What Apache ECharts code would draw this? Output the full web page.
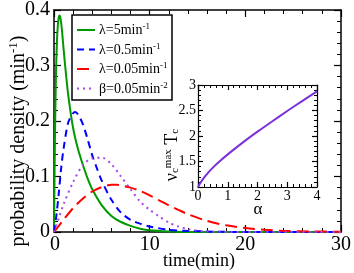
<!DOCTYPE html>
<html><head><meta charset="utf-8">
<script src="https://cdn.jsdelivr.net/npm/echarts@6/dist/echarts.min.js"></script>
<style>html,body{margin:0;padding:0;background:#fff}#c{width:354px;height:273px}</style>
</head><body><div id="c"></div>
<script>
// ---- data ----
const tGreen = [0,0.1,0.2,0.3,0.4,0.5,0.6,0.7,0.85,1,1.25,1.5,2,2.5,3,3.5,4,5,6,7,8,9,10,12,15,20,30];
const vGreen = [0,0.17,0.28,0.34,0.372,0.387,0.39,0.383,0.36,0.33,0.285,0.245,0.187,0.15,0.122,0.097,0.077,0.048,0.029,0.018,0.011,0.006,0.003,0.001,0,0,0];
const tBlue = [0,0.25,0.5,0.75,1,1.5,2,2.2,2.5,3,3.5,4,4.5,5,6,7,8,9,10,12,14,17,20,30];
const vBlue = [0,0.03,0.07,0.115,0.15,0.198,0.214,0.216,0.212,0.195,0.168,0.138,0.114,0.092,0.058,0.035,0.022,0.015,0.01,0.004,0.002,0.0005,0,0];
const tRed = [0,1,2,3,4,5,6,6.5,7,8,9,10,11,12,13,14,16,18,20,22,24,27,30];
const vRed = [0,0.022,0.043,0.06,0.073,0.081,0.085,0.085,0.084,0.08,0.074,0.066,0.057,0.048,0.04,0.032,0.02,0.012,0.007,0.004,0.002,0.001,0.0005];
const tPurple = [0,0.5,1,2,3,4,5,6,7,8,9,10,11,12,13,14,16,20,30];
const vPurple = [0,0.025,0.05,0.09,0.12,0.133,0.134,0.122,0.1,0.077,0.055,0.04,0.028,0.017,0.01,0.005,0.001,0,0];
const alphaVals = [0,0.1,0.25,0.5,0.75,1,1.5,2,2.5,3,3.5,4];
const insetVals = [1,1.1,1.22,1.38,1.515,1.64,1.87,2.085,2.29,2.49,2.685,2.875];
const legendNames = ['λ=5min', 'λ=0.5min', 'λ=0.05min', 'β=0.05min'];
const legendExps = ['-1','-1','-1','-2'];

const F = 'Liberation Serif';
const COLORS = ['#009a00','#0000ff','#ff0000','#a848e8'];
const DASHES = [null,[7,5],[12,6],[2,4]];
const zip = (a,b)=>a.map((x,i)=>[x,b[i]]);
const chart = echarts.init(document.getElementById('c'), null, {renderer:'canvas'});

function axisCommon(show, fs){
  return {
    axisLine:{show:true, onZero:false, lineStyle:{color:'#000', width:1.5}},
    axisTick:{show:true, inside:true, length:7, lineStyle:{color:'#000', width:1.2}},
    minorTick:{show:true, splitNumber:5, length:4, lineStyle:{color:'#000', width:1}},
    splitLine:{show:false},
    axisLabel:{show:show, color:'#000', fontFamily:F, fontSize:fs, showMinLabel:true, showMaxLabel:true}
  };
}
function inAxis(show){
  const a = axisCommon(show, 14);
  a.axisTick.length = 5; a.minorTick.length = 3;
  a.axisLine.lineStyle.width = 1.2;
  return a;
}
const lbl = (fs, m)=>({show:true,color:'#000',fontFamily:F,fontSize:fs,margin:m,showMinLabel:true,showMaxLabel:true,hideOverlap:false});

// legend drawn as graphic elements (box, sample lines, rich labels)
const legendX = 72, legendY = 15, legendW = 100, legendH = 85, rowY0 = 30, rowStep = 19.5;
const legendGraphics = [{type:'rect', z:20, shape:{x:legendX, y:legendY, width:legendW, height:legendH}, style:{fill:'#fff', stroke:'#000', lineWidth:1.5}}];
legendNames.forEach((n,i)=>{
  const y = rowY0 + i*rowStep;
  legendGraphics.push({type:'line', z:21, shape:{x1:77,y1:y,x2:95,y2:y}, style:{stroke:COLORS[i], lineWidth:2, lineDash:DASHES[i]||null}});
  legendGraphics.push({type:'text', z:21, x:99, y:y, style:{text:'{t|'+n+'}{s|'+legendExps[i]+'}', fill:'#000', align:'left', verticalAlign:'middle',
    rich:{t:{fontFamily:F,fontSize:14,lineHeight:15,verticalAlign:'bottom'}, s:{fontFamily:F,fontSize:9,lineHeight:9,verticalAlign:'top'}}}});
});

const xLbl = lbl(20,3);
xLbl.formatter = v => (v === 0 ? '' : String(v));

const option = {
  animation:false,
  backgroundColor:'#fff',
  grid:[
    {left:54, top:7, width:291, height:225},
    {left:198, top:85, width:119, height:102, show:true, backgroundColor:'#fff', borderWidth:0, z:5}
  ],
  xAxis:[
    Object.assign(axisCommon(true,20), {gridIndex:0, type:'value', min:0, max:30, interval:10, position:'bottom', axisLabel:xLbl}),
    Object.assign(axisCommon(false,20), {gridIndex:0, type:'value', min:0, max:30, interval:10, position:'top'}),
    Object.assign(inAxis(true), {gridIndex:1, type:'value', min:0, max:4, interval:1, position:'bottom', z:6, axisLabel:lbl(14,2)}),
    Object.assign(inAxis(false), {gridIndex:1, type:'value', min:0, max:4, interval:1, position:'top', z:6})
  ],
  yAxis:[
    Object.assign(axisCommon(true,20), {gridIndex:0, type:'value', min:0, max:0.4, interval:0.1, position:'left', axisLabel:lbl(20,4)}),
    Object.assign(axisCommon(false,20), {gridIndex:0, type:'value', min:0, max:0.4, interval:0.1, position:'right'}),
    Object.assign(inAxis(true), {gridIndex:1, type:'value', min:1, max:3, interval:0.5, position:'left', z:6, axisLabel:lbl(14,2)}),
    Object.assign(inAxis(false), {gridIndex:1, type:'value', min:1, max:3, interval:0.5, position:'right', z:6})
  ],
  series:[
    {name:'g', type:'line', xAxisIndex:0, yAxisIndex:0, data:zip(tGreen,vGreen), showSymbol:false, symbol:'none', smooth:0.3, lineStyle:{color:COLORS[0], width:2}},
    {name:'b', type:'line', xAxisIndex:0, yAxisIndex:0, data:zip(tBlue,vBlue), showSymbol:false, symbol:'none', smooth:0.3, lineStyle:{color:COLORS[1], width:2, type:DASHES[1]}},
    {name:'r', type:'line', xAxisIndex:0, yAxisIndex:0, data:zip(tRed,vRed), showSymbol:false, symbol:'none', smooth:0.3, lineStyle:{color:COLORS[2], width:2, type:DASHES[2]}},
    {name:'p', type:'line', xAxisIndex:0, yAxisIndex:0, data:zip(tPurple,vPurple), showSymbol:false, symbol:'none', smooth:0.3, lineStyle:{color:COLORS[3], width:2, type:DASHES[3]}},
    {name:'inset', type:'line', xAxisIndex:2, yAxisIndex:2, data:zip(alphaVals,insetVals), showSymbol:false, symbol:'none', smooth:0.3, z:7, lineStyle:{color:'#7b30d8', width:2}}
  ],
  graphic: legendGraphics.concat([
    {type:'text', x:199, y:261, z:10, style:{text:'time(min)', font:'18px "Liberation Serif"', fill:'#000', align:'center', verticalAlign:'middle'}},
    {type:'text', x:18, y:141, rotation:Math.PI/2, z:10, style:{text:'{a|probability density (min}{s|-1}{a|)}', fill:'#000', align:'center', verticalAlign:'middle',
      rich:{a:{fontFamily:F,fontSize:20,lineHeight:22,verticalAlign:'bottom'}, s:{fontFamily:F,fontSize:13,lineHeight:13,verticalAlign:'top'}}}},
    {type:'text', x:258, y:210, z:10, style:{text:'α', font:'17px "Liberation Serif"', fill:'#000', align:'center', verticalAlign:'middle'}},
    {type:'text', x:172, y:155, rotation:Math.PI/2, z:10, style:{text:'{a|ν}{b|c}{s|max}{a| T}{b|c}', fill:'#000', align:'center', verticalAlign:'middle',
      rich:{a:{fontFamily:F,fontSize:18,lineHeight:18,verticalAlign:'middle'}, b:{fontFamily:F,fontSize:11,lineHeight:11,verticalAlign:'bottom'}, s:{fontFamily:F,fontSize:11,lineHeight:11,verticalAlign:'top'}}}}
  ])
};
chart.setOption(option);
// x-axis "0" tick label, positioned from the axis scale
const x0 = chart.convertToPixel({xAxisIndex:0}, 0);
const yBase = chart.convertToPixel({yAxisIndex:0}, 0);
option.graphic.push({type:'text', id:'xzero', x:x0 + 1, y:yBase + 13, z:40, style:{text:'0', font:'20px "Liberation Serif"', fill:'#000', align:'center', verticalAlign:'middle'}});
chart.setOption(option);
</script></body></html>
